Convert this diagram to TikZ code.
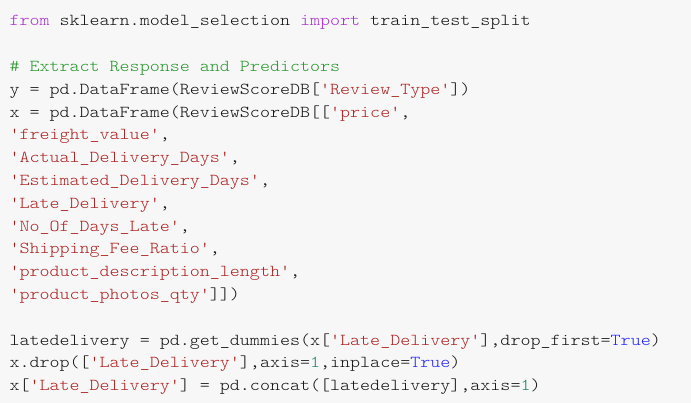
\documentclass[tikz,border=0pt]{standalone}
\usepackage{fontspec}
\setmonofont[FakeStretch=1.1429]{Latin Modern Mono Light}
\usepackage{xcolor}
\definecolor{codebg}{HTML}{F7F7F7}
\definecolor{codetext}{HTML}{111111}
\definecolor{kwcol}{HTML}{AB2ECD}
\definecolor{cmcol}{HTML}{24962A}
\definecolor{strcol}{HTML}{AD1F1F}
\definecolor{numcol}{HTML}{16806A}
\definecolor{atomcol}{HTML}{2222FF}
\newcommand{\ckw}[1]{\textcolor{kwcol}{#1}}
\newcommand{\ccm}[1]{\textcolor{cmcol}{#1}}
\newcommand{\cstr}[1]{\textcolor{strcol}{#1}}
\newcommand{\cnum}[1]{\textcolor{numcol}{#1}}
\newcommand{\catom}[1]{\textcolor{atomcol}{#1}}

\begin{document}
\begin{tikzpicture}[x=1pt, y=1pt, codeline/.style={anchor=base west, inner sep=0pt, text=codetext, font=\ttfamily\fontsize{16.7}{22.8}\selectfont}]
	\fill[codebg] (0,0) rectangle (691,403);
	\useasboundingbox (0,0) rectangle (691,403);
	\node[codeline] (importline) at (9.3,377) {\ckw{from} sklearn.model\_selection \ckw{import} train\_test\_split};
	\node[codeline] (comment) at (9.3,331.4) {\ccm{\# Extract Response and Predictors}};
	\node[codeline] (yline) at (9.3,308.6) {y = pd.DataFrame(ReviewScoreDB[\cstr{'Review\_Type'}])};
	\node[codeline] (xline) at (9.3,285.8) {x = pd.DataFrame(ReviewScoreDB[[\cstr{'price'},};
	\node[codeline] (freight) at (9.3,263.0) {\cstr{'freight\_value'},};
	\node[codeline] (actual) at (9.3,240.2) {\cstr{'Actual\_Delivery\_Days'},};
	\node[codeline] (estimated) at (9.3,217.4) {\cstr{'Estimated\_Delivery\_Days'},};
	\node[codeline] (late) at (9.3,194.6) {\cstr{'Late\_Delivery'},};
	\node[codeline] (daysl) at (9.3,171.8) {\cstr{'No\_Of\_Days\_Late'},};
	\node[codeline] (ratio) at (9.3,149.0) {\cstr{'Shipping\_Fee\_Ratio'},};
	\node[codeline] (desc) at (9.3,126.2) {\cstr{'product\_description\_length'},};
	\node[codeline] (photos) at (9.3,103.4) {\cstr{'product\_photos\_qty'}]])};
	\node[codeline] (dummies) at (9.3,57.8) {latedelivery = pd.get\_dummies(x[\cstr{'Late\_Delivery'}],drop\_first=\catom{True})};
	\node[codeline] (dropline) at (9.3,35.0) {x.drop([\cstr{'Late\_Delivery'}],axis=\cnum{1},inplace=\catom{True})};
	\node[codeline] (concat) at (9.3,12.2) {x[\cstr{'Late\_Delivery'}] = pd.concat([latedelivery],axis=\cnum{1})};
\end{tikzpicture}
\end{document}
